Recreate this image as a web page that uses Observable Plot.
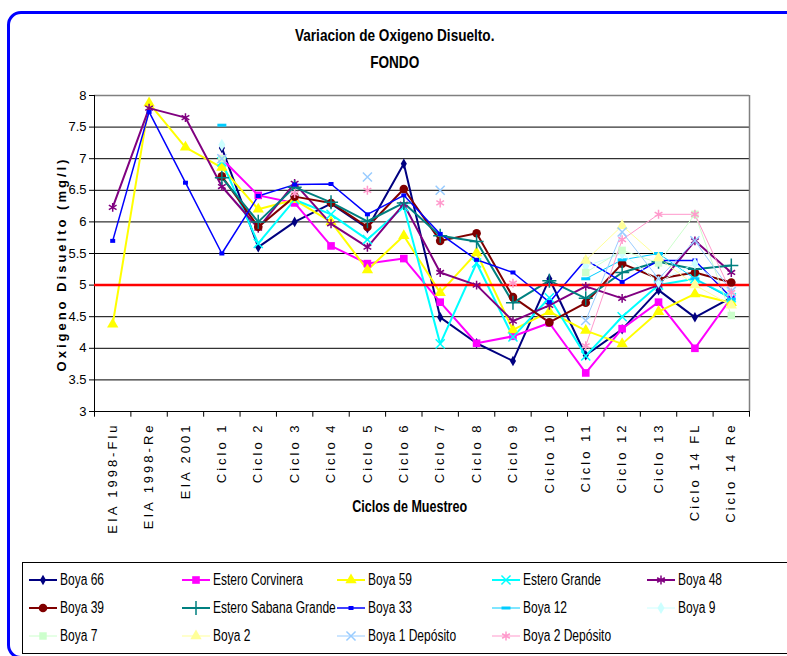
<!DOCTYPE html>
<html><head><meta charset="utf-8">
<script src="https://cdn.jsdelivr.net/npm/d3@7"></script>
<script src="https://cdn.jsdelivr.net/npm/@observablehq/plot@0.6"></script>
<style>
body{margin:0;background:#fff;}
#wrap{position:relative;width:787px;height:656px;overflow:hidden;background:#fff;font-family:"Liberation Sans",Arial,sans-serif;}
#frame{position:absolute;left:7px;top:11px;width:830px;height:648px;border:3px solid #0000ff;border-radius:14px;box-sizing:border-box;}
.nar{display:inline-block;transform:scaleX(0.8);}
.title{position:absolute;left:0;width:790px;text-align:center;font-weight:bold;font-size:17px;line-height:20px;}
.title .nar{transform-origin:50% 50%;}
#chart{position:absolute;left:0;top:0;}
#ylab{position:absolute;left:61px;top:264px;transform:translate(-50%,-50%) rotate(-90deg);white-space:nowrap;font-weight:bold;font-size:13px;letter-spacing:3px;}
#xlab{position:absolute;left:0;width:820px;top:497px;text-align:center;white-space:nowrap;font-weight:bold;font-size:16.5px;}
#xlab .nar{transform:scaleX(0.76);transform-origin:50% 50%;}
#legend{position:absolute;left:22px;top:562px;width:800px;height:92px;border:1px solid #000;box-sizing:border-box;}
.li{position:absolute;height:20px;display:flex;align-items:center;font-size:16px;white-space:nowrap;}
.li svg{margin-right:2px;flex:none;}
.li .nar{transform:scaleX(0.75);transform-origin:0 50%;}
#chart svg g[aria-label="x-axis tick label"] text{letter-spacing:3px;}
</style></head>
<body>
<div id="wrap">
  <div id="frame"></div>
  <div class="title" style="top:26px"><span class="nar">Variacion de Oxigeno Disuelto.</span></div>
  <div class="title" style="top:53px"><span class="nar">FONDO</span></div>
  <div id="chart"></div>
  <div id="ylab">Oxigeno Disuelto (mg/l)</div>
  <div id="xlab"><span class="nar">Ciclos de Muestreo</span></div>
  <div id="legend"></div>
</div>
<script>
const categories = ["EIA 1998-Flu","EIA 1998-Re","EIA 2001","Ciclo 1","Ciclo 2","Ciclo 3","Ciclo 4","Ciclo 5","Ciclo 6","Ciclo 7","Ciclo 8","Ciclo 9","Ciclo 10","Ciclo 11","Ciclo 12","Ciclo 13","Ciclo 14 FL","Ciclo 14 Re"];
const yTicks = [3,3.5,4,4.5,5,5.5,6,6.5,7,7.5,8];
const threshold = 5;
const seriesNames = ["Boya 66","Estero Corvinera","Boya 59","Estero Grande","Boya 48","Boya 39","Estero Sabana Grande","Boya 33","Boya 12","Boya 9","Boya 7","Boya 2","Boya 1 Depósito","Boya 2 Depósito"];

const boya66          = [null,null,null,7.17,5.6,6.0,6.29,5.9,6.92,4.49,4.08,3.8,5.1,3.89,4.3,4.92,4.49,4.8];
const esteroCorvinera = [null,null,null,7.0,6.42,6.3,5.62,5.34,5.42,4.73,4.08,4.19,4.4,3.61,4.31,4.73,4.0,4.8];
const boya59          = [4.38,7.88,7.18,6.86,6.2,6.35,6.0,5.24,5.78,4.88,5.51,4.29,4.58,4.28,4.07,4.58,4.86,4.72];
const esteroGrande    = [null,null,null,6.95,5.66,6.35,6.12,5.72,6.24,4.07,5.35,4.18,4.8,3.88,4.5,5.0,5.1,4.8];
const boya48          = [6.23,7.8,7.65,6.56,5.9,6.61,5.97,5.6,6.28,5.2,5.0,4.43,4.68,4.98,4.79,5.0,5.7,5.2];
const boya39          = [null,null,null,6.72,5.92,6.4,6.3,5.92,6.52,5.7,5.82,4.81,4.41,4.72,5.34,5.1,5.2,5.04];
const esteroSabana    = [null,null,null,6.7,6.0,6.55,6.31,6.01,6.3,5.78,5.69,4.72,5.07,4.79,5.2,5.37,5.25,5.31];
const boya33          = [5.7,7.74,6.62,5.5,6.41,6.59,6.6,6.12,6.42,5.81,5.4,5.2,4.73,5.4,5.05,5.39,5.39,4.8];
const boya12          = [null,null,null,7.53,null,null,null,null,null,null,null,null,null,5.1,5.4,5.5,5.1,4.78];
const boya9           = [null,null,null,7.22,null,null,null,null,null,null,null,null,null,5.3,5.5,5.05,5.34,4.88];
const boya7           = [null,null,null,7.0,null,null,null,null,null,null,null,null,null,5.2,5.55,5.35,6.12,4.52];
const boya2           = [null,null,null,null,null,null,null,null,null,null,null,null,null,5.39,5.94,5.43,5.0,4.68];
const boya1Deposito   = [null,null,null,7.0,null,null,null,6.71,null,6.5,null,null,null,4.44,5.84,5.1,5.7,4.9];
const boya2Deposito   = [null,null,null,null,null,6.45,null,6.5,null,6.3,null,5.03,null,4.04,5.72,6.12,6.12,4.88];

const seriesValues = [boya66,esteroCorvinera,boya59,esteroGrande,boya48,boya39,esteroSabana,boya33,boya12,boya9,boya7,boya2,boya1Deposito,boya2Deposito];

const dashSym = {draw(c){c.rect(-4.5,-1.5,9,3);}};
const smallSq = {draw(c){c.rect(-2.5,-2,5,4);}};
const styles = [
 {color:"#000080", symbol:"diamond",  filled:true,  r:3.2, w:2},
 {color:"#ff00ff", symbol:"square",   filled:true,  r:4.3, w:2},
 {color:"#ffff00", symbol:"triangle", filled:true,  r:4.2, w:2},
 {color:"#00ffff", symbol:"times",    filled:false, r:4.2, w:2},
 {color:"#800080", symbol:"asterisk", filled:false, r:4.2, w:2},
 {color:"#800000", symbol:"circle",   filled:true,  r:4.3, w:2},
 {color:"#008080", symbol:"plus",     filled:false, r:4.6, w:2},
 {color:"#0000ff", symbol:smallSq,    filled:true,  r:3,   w:1.5},
 {color:"#00ccff", symbol:dashSym,    filled:true,  r:4,   w:1},
 {color:"#ccffff", symbol:"diamond",  filled:true,  r:3.7, w:1},
 {color:"#ccffcc", symbol:"square",   filled:true,  r:4.2, w:1},
 {color:"#ffff99", symbol:"triangle", filled:true,  r:4.2, w:1},
 {color:"#99ccff", symbol:"times",    filled:false, r:4.2, w:1},
 {color:"#ff99cc", symbol:"asterisk", filled:false, r:4.2, w:1}
];

const indices = categories.map((c,i)=>i);
const boundaries = d3.range(categories.length + 1).map(i => i - 0.5);
const tables = seriesValues.map((vals,s)=>vals.map((v,i)=>({series:seriesNames[s], i, v: v == null ? NaN : v})));

const lineMarks = tables.map((t,s)=>Plot.line(t,{x:"i",y:"v",stroke:styles[s].color,strokeWidth:styles[s].w}));
const dotMarks = tables.map((t,s)=>{
  const st = styles[s];
  const o = {x:"i", y:"v", r:st.r, symbol:st.symbol};
  if (st.filled) { o.fill = st.color; o.stroke = "none"; } else { o.stroke = st.color; o.strokeWidth = 1.5; o.fill = "none"; }
  return Plot.dot(t.filter(d=>!isNaN(d.v)), o);
});

const chart = Plot.plot({
  width: 787, height: 560,
  marginLeft: 94, marginRight: 38, marginTop: 95, marginBottom: 149,
  x: {type:"linear", domain:[-0.5, categories.length - 0.5]},
  y: {domain:[3,8]},
  style: {fontFamily:'"Liberation Sans", Arial, sans-serif', fontSize:"12.5px", background:"transparent", color:"#000", overflow:"visible"},
  marks: [
    Plot.ruleY(yTicks.filter(t=>t>3 && t<8), {stroke:"#000", strokeWidth:1}),
    Plot.ruleY([yTicks[yTicks.length-1]], {stroke:"#808080", strokeWidth:1.5}),
    Plot.ruleX([categories.length - 0.5], {stroke:"#808080", strokeWidth:1.5}),
    Plot.ruleX(boundaries, {y1:3, y2:2.91, stroke:"#000"}),
    Plot.ruleY([3], {stroke:"#000"}),
    Plot.ruleX([-0.5], {stroke:"#000"}),
    Plot.axisY(yTicks, {tickSize:5, tickPadding:3, label:null, fontSize:13, tickFormat:d=>String(d)}),
    Plot.axisX(indices, {tickFormat:i=>categories[i], tickRotate:-90, tickSize:0, tickPadding:11, label:null, fontSize:13}),
    ...lineMarks,
    Plot.ruleY([threshold], {stroke:"#ff0000", strokeWidth:2.5}),
    ...dotMarks
  ]
});
document.getElementById("chart").appendChild(chart);

// legend
const legend = document.getElementById("legend");
const colX = [5, 158, 313, 468, 623];
const rowY = [7, 35, 63];
const symMap = {diamond:d3.symbolDiamond, square:d3.symbolSquare, triangle:d3.symbolTriangle, times:d3.symbolTimes, asterisk:d3.symbolAsterisk, circle:d3.symbolCircle, plus:d3.symbolPlus};
seriesNames.forEach((name,s)=>{
  const st = styles[s];
  const div = document.createElement("div");
  div.className = "li";
  div.style.left = colX[s%5] + "px";
  div.style.top = rowY[Math.floor(s/5)] + "px";
  const svg = d3.create("svg").attr("width",30).attr("height",14);
  svg.append("line").attr("x1",1).attr("x2",29).attr("y1",7).attr("y2",7).attr("stroke",st.color).attr("stroke-width",st.w);
  const type = typeof st.symbol === "string" ? symMap[st.symbol] : st.symbol;
  const path = d3.symbol(type, st.r*st.r*Math.PI)();
  const p = svg.append("path").attr("d",path).attr("transform","translate(15,7)");
  if (st.filled) p.attr("fill",st.color); else p.attr("fill","none").attr("stroke",st.color).attr("stroke-width",1.5);
  div.appendChild(svg.node());
  const span = document.createElement("span");
  span.className = "nar";
  span.textContent = name;
  div.appendChild(span);
  legend.appendChild(div);
});
</script>
</body></html>
